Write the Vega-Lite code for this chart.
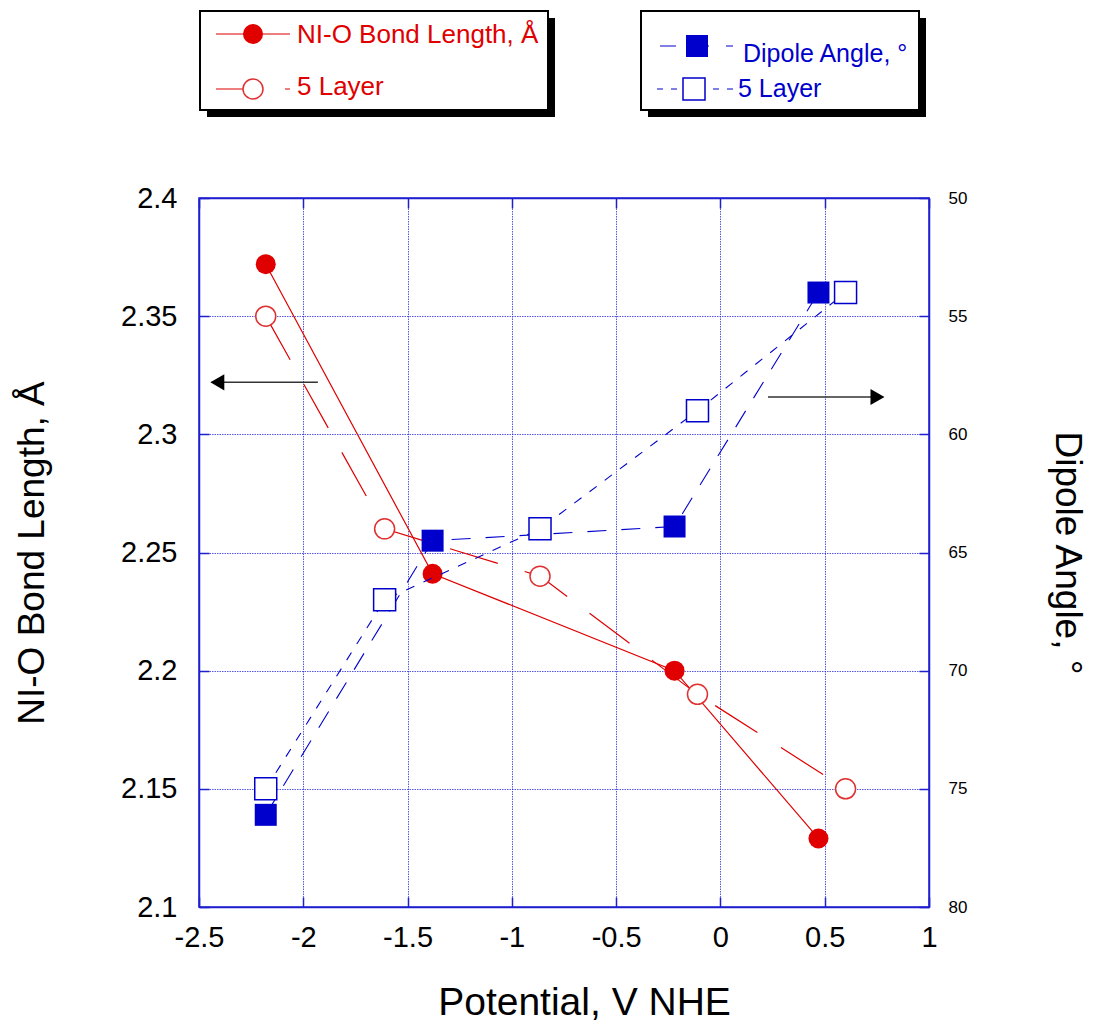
{
  "$schema": "https://vega.github.io/schema/vega-lite/v6.json",
  "padding": {"left": 12, "top": 10, "right": 5, "bottom": 5},
  "background": "white",
  "spacing": 0,
  "bounds": "flush",
  "datasets": {
    "bond": [
      {"series": "bulk", "potential": -2.18, "length": 2.372},
      {"series": "bulk", "potential": -1.38, "length": 2.241},
      {"series": "bulk", "potential": -0.22, "length": 2.2},
      {"series": "bulk", "potential": 0.47, "length": 2.129},
      {"series": "5 Layer", "potential": -2.18, "length": 2.35},
      {"series": "5 Layer", "potential": -1.61, "length": 2.26},
      {"series": "5 Layer", "potential": -0.865, "length": 2.24},
      {"series": "5 Layer", "potential": -0.11, "length": 2.19},
      {"series": "5 Layer", "potential": 0.6, "length": 2.15}
    ],
    "angle": [
      {"series": "bulk", "potential": -2.18, "angle": 76.1},
      {"series": "bulk", "potential": -1.38, "angle": 64.5},
      {"series": "bulk", "potential": -0.22, "angle": 63.9},
      {"series": "bulk", "potential": 0.47, "angle": 54.0},
      {"series": "5 Layer", "potential": -2.18, "angle": 75.0},
      {"series": "5 Layer", "potential": -1.61, "angle": 67.0},
      {"series": "5 Layer", "potential": -0.865, "angle": 64.0},
      {"series": "5 Layer", "potential": -0.11, "angle": 59.0},
      {"series": "5 Layer", "potential": 0.6, "angle": 54.0}
    ],
    "arrowLeft": [
      {"part": "tail", "potential": -1.93, "length": 2.322},
      {"part": "tip", "potential": -2.44, "length": 2.322},
      {"part": "head", "potential": -2.412, "length": 2.322}
    ],
    "arrowRight": [
      {"part": "tail", "potential": 0.228, "angle": 58.42},
      {"part": "tip", "potential": 0.78, "angle": 58.42},
      {"part": "head", "potential": 0.753, "angle": 58.42}
    ],
    "legendBoxes": [
      {"box": "bond", "lx": 1, "lx2": 349, "ly": 0, "ly2": 99},
      {"box": "angle", "lx": 442, "lx2": 720, "ly": 0, "ly2": 99}
    ],
    "legendLines": [
      {"item": "bond", "lx": 17, "ly": 23},
      {"item": "bond", "lx": 91, "ly": 23},
      {"item": "bond5", "lx": 17, "ly": 78},
      {"item": "bond5", "lx": 91, "ly": 78},
      {"item": "angle", "lx": 461, "ly": 35},
      {"item": "angle", "lx": 534, "ly": 35},
      {"item": "angle5", "lx": 458, "ly": 78},
      {"item": "angle5", "lx": 534, "ly": 78}
    ],
    "legendMarks": [
      {"item": "bond", "lx": 54, "ly": 23},
      {"item": "bond5", "lx": 54, "ly": 78},
      {"item": "angle", "lx": 498, "ly": 35},
      {"item": "angle5", "lx": 495, "ly": 78}
    ],
    "legendText": [
      {"item": "bond", "lx": 98, "ly": 32, "label": "NI-O Bond Length, Å"},
      {"item": "bond5", "lx": 98, "ly": 84, "label": "5 Layer"},
      {"item": "angle", "lx": 544, "ly": 51, "label": "Dipole Angle, °"},
      {"item": "angle5", "lx": 539, "ly": 86, "label": "5 Layer"}
    ]
  },
  "vconcat": [
    {
      "width": 730,
      "height": 187,
      "view": {"stroke": null},
      "encoding": {
        "x": {"field": "lx", "type": "quantitative", "scale": {"domain": [0, 730], "nice": false, "zero": false}, "axis": null},
        "y": {"field": "ly", "type": "quantitative", "scale": {"domain": [0, 187], "nice": false, "zero": false, "reverse": true}, "axis": null}
      },
      "layer": [
        {"data": {"name": "legendBoxes"}, "mark": {"type": "rect", "fill": "black", "xOffset": 7, "x2Offset": 7, "yOffset": 7, "y2Offset": 7}, "encoding": {"x2": {"field": "lx2"}, "y2": {"field": "ly2"}}},
        {"data": {"name": "legendBoxes"}, "mark": {"type": "rect", "fill": "white", "stroke": "black", "strokeWidth": 2}, "encoding": {"x2": {"field": "lx2"}, "y2": {"field": "ly2"}}},
        {"data": {"name": "legendLines"}, "transform": [{"filter": "datum.item == 'bond'"}], "mark": {"type": "line", "color": "#e00000", "strokeWidth": 1.2}},
        {"data": {"name": "legendLines"}, "transform": [{"filter": "datum.item == 'bond5'"}], "mark": {"type": "line", "color": "#e00000", "strokeWidth": 1.2, "strokeDash": [27, 42]}},
        {"data": {"name": "legendLines"}, "transform": [{"filter": "datum.item == 'angle'"}], "mark": {"type": "line", "color": "#0000cc", "strokeWidth": 1.2, "strokeDash": [16, 17]}},
        {"data": {"name": "legendLines"}, "transform": [{"filter": "datum.item == 'angle5'"}], "mark": {"type": "line", "color": "#0000cc", "strokeWidth": 1.2, "strokeDash": [6, 8]}},
        {"data": {"name": "legendMarks"}, "transform": [{"filter": "datum.item == 'bond'"}], "mark": {"type": "point", "shape": "circle", "filled": true, "color": "#e00000", "size": 400, "opacity": 1}},
        {"data": {"name": "legendMarks"}, "transform": [{"filter": "datum.item == 'bond5'"}], "mark": {"type": "point", "shape": "circle", "fill": "white", "stroke": "#e03030", "strokeWidth": 1.5, "size": 400, "opacity": 1}},
        {"data": {"name": "legendMarks"}, "transform": [{"filter": "datum.item == 'angle'"}], "mark": {"type": "point", "shape": "square", "filled": true, "color": "#0000cc", "size": 484, "opacity": 1}},
        {"data": {"name": "legendMarks"}, "transform": [{"filter": "datum.item == 'angle5'"}], "mark": {"type": "point", "shape": "square", "fill": "white", "stroke": "#0000cc", "strokeWidth": 1.5, "size": 484, "opacity": 1}},
        {"data": {"name": "legendText"}, "transform": [{"filter": "datum.item == 'bond' || datum.item == 'bond5'"}], "mark": {"type": "text", "align": "left", "baseline": "alphabetic", "fontSize": 26, "font": "Liberation Sans", "color": "#e00000"}, "encoding": {"text": {"field": "label"}}},
        {"data": {"name": "legendText"}, "transform": [{"filter": "datum.item == 'angle' || datum.item == 'angle5'"}], "mark": {"type": "text", "align": "left", "baseline": "alphabetic", "fontSize": 25, "font": "Liberation Sans", "color": "#0000cc"}, "encoding": {"text": {"field": "label"}}}
      ]
    },
    {
      "width": 730,
      "height": 709,
      "view": {"stroke": "#1f1fcf", "strokeWidth": 1.5},
      "layer": [
        {
          "encoding": {
            "x": {
              "field": "potential", "type": "quantitative",
              "scale": {"domain": [-2.5, 1], "nice": false, "zero": false},
              "axis": {
                "orient": "bottom", "title": "Potential, V NHE",
                "values": [-2.5, -2, -1.5, -1, -0.5, 0, 0.5, 1],
                "labelExpr": "datum.value + ''", "labelFlush": false,
                "grid": true, "labelFontSize": 29, "labelPadding": 26,
                "titleFontSize": 39, "titlePadding": 31, "titleX": 385
              }
            },
            "y": {
              "field": "length", "type": "quantitative",
              "scale": {"domain": [2.1, 2.4], "nice": false, "zero": false},
              "axis": {
                "orient": "left", "title": "NI-O Bond Length, Å",
                "values": [2.1, 2.15, 2.2, 2.25, 2.3, 2.35, 2.4],
                "labelExpr": "datum.value + ''", "labelFlush": false,
                "grid": true, "labelFontSize": 29, "labelPadding": 32,
                "titleFontSize": 37, "titlePadding": 69
              }
            }
          },
          "layer": [
            {"data": {"name": "bond"}, "transform": [{"filter": "datum.series == 'bulk'"}], "mark": {"type": "line", "color": "#e00000", "strokeWidth": 1.2}},
            {"data": {"name": "bond"}, "transform": [{"filter": "datum.series == '5 Layer'"}], "mark": {"type": "line", "color": "#e00000", "strokeWidth": 1.2, "strokeDash": [50, 28]}},
            {"data": {"name": "arrowLeft"}, "transform": [{"filter": "datum.part != 'head'"}], "mark": {"type": "line", "color": "#333333", "strokeWidth": 1.5}},
            {"data": {"name": "arrowLeft"}, "transform": [{"filter": "datum.part == 'head'"}], "mark": {"type": "point", "shape": "triangle-left", "filled": true, "color": "black", "size": 260, "opacity": 1}},
            {"data": {"name": "bond"}, "transform": [{"filter": "datum.series == 'bulk'"}], "mark": {"type": "point", "shape": "circle", "filled": true, "color": "#e00000", "size": 400, "opacity": 1}},
            {"data": {"name": "bond"}, "transform": [{"filter": "datum.series == '5 Layer'"}], "mark": {"type": "point", "shape": "circle", "fill": "white", "stroke": "#e03030", "strokeWidth": 1.5, "size": 400, "opacity": 1}}
          ]
        },
        {
          "encoding": {
            "x": {
              "field": "potential", "type": "quantitative",
              "scale": {"domain": [-2.5, 1], "nice": false, "zero": false},
              "axis": null
            },
            "y": {
              "field": "angle", "type": "quantitative",
              "scale": {"domain": [50, 80], "nice": false, "zero": false, "reverse": true},
              "axis": {
                "orient": "right", "title": "Dipole Angle, °",
                "values": [50, 55, 60, 65, 70, 75, 80], "labelFlush": false,
                "grid": false, "labelFontSize": 17, "labelPadding": 29,
                "titleFontSize": 37, "titlePadding": 81
              }
            }
          },
          "layer": [
            {"data": {"name": "angle"}, "transform": [{"filter": "datum.series == 'bulk'"}], "mark": {"type": "line", "color": "#0000cc", "strokeWidth": 1.1, "strokeDash": [19, 15]}},
            {"data": {"name": "angle"}, "transform": [{"filter": "datum.series == '5 Layer'"}], "mark": {"type": "line", "color": "#0000cc", "strokeWidth": 1.1, "strokeDash": [9, 10]}},
            {"data": {"name": "arrowRight"}, "transform": [{"filter": "datum.part != 'head'"}], "mark": {"type": "line", "color": "#333333", "strokeWidth": 1.5}},
            {"data": {"name": "arrowRight"}, "transform": [{"filter": "datum.part == 'head'"}], "mark": {"type": "point", "shape": "triangle-right", "filled": true, "color": "black", "size": 260, "opacity": 1}},
            {"data": {"name": "angle"}, "transform": [{"filter": "datum.series == 'bulk'"}], "mark": {"type": "point", "shape": "square", "filled": true, "color": "#0000cc", "size": 484, "opacity": 1}},
            {"data": {"name": "angle"}, "transform": [{"filter": "datum.series == '5 Layer'"}], "mark": {"type": "point", "shape": "square", "fill": "white", "stroke": "#0000cc", "strokeWidth": 1.5, "size": 484, "opacity": 1}}
          ]
        },
        {
          "data": {"values": [{"potential": -2.5}, {"potential": 1}]},
          "mark": {"type": "rule", "opacity": 0},
          "encoding": {
            "x": {
              "field": "potential", "type": "quantitative",
              "scale": {"domain": [-2.5, 1], "nice": false, "zero": false},
              "axis": {"orient": "top", "title": null, "labels": false, "grid": false, "values": [-2.5, -2, -1.5, -1, -0.5, 0, 0.5, 1]}
            }
          }
        }
      ],
      "resolve": {"scale": {"x": "independent", "y": "independent"}}
    }
  ],
  "resolve": {"scale": {"x": "independent", "y": "independent"}},
  "config": {
    "font": "Liberation Sans",
    "axis": {
      "domainColor": "#1f1fcf", "domainWidth": 1.5,
      "tickColor": "#1f1fcf", "tickWidth": 1.5, "tickSize": -10,
      "gridColor": "#2020d8", "gridDash": [1.5, 1], "gridOpacity": 0.75, "gridWidth": 1,
      "labelColor": "black", "titleColor": "black",
      "labelFont": "Liberation Sans", "titleFont": "Liberation Sans",
      "titleFontWeight": "normal"
    }
  }
}
